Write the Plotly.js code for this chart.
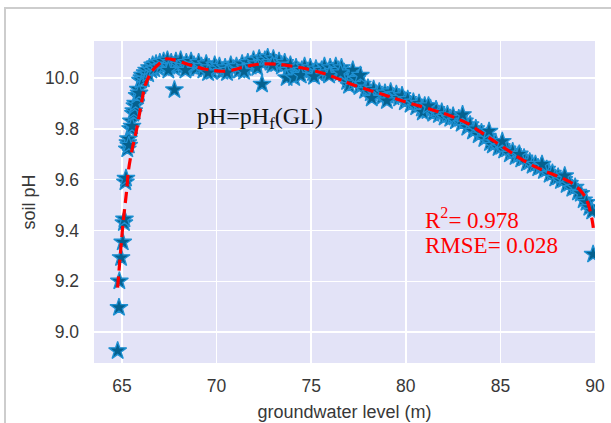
<!DOCTYPE html>
<html>
<head>
<meta charset="utf-8">
<script src="https://cdn.plot.ly/plotly-3.0.1.min.js"></script>
<style>
  html, body { margin: 0; padding: 0; background: #ffffff; }
  #wrap { position: relative; width: 611px; height: 423px; }
  #chart { width: 611px; height: 423px; }
  #frame { position: absolute; left: 4px; top: 7px; right: -4px; bottom: -4px;
           border-top: 2px solid #cdcdcd; border-left: 2px solid #cdcdcd; pointer-events: none; }
</style>
</head>
<body>
<div id="wrap">
  <div id="chart"></div>
  <div id="frame"></div>
</div>
<script>
const groundwaterLevel = [
  64.77, 64.84, 64.86, 64.95, 65.04, 65.10, 65.13, 65.18, 65.21, 65.28, 65.31, 65.34, 65.36,
  65.45, 65.50, 65.53, 65.60, 65.62, 65.68, 65.72, 65.80, 65.86, 65.90, 65.98, 66.05, 66.12,
  66.00, 66.08, 66.15, 66.22, 66.30, 66.38, 66.45, 66.55, 66.62, 66.70, 66.80, 66.90,
  67.00, 67.10, 67.20, 67.30, 67.40, 67.50, 67.60, 67.75, 67.85, 68.00, 68.10, 68.25, 68.40,
  68.50, 68.65, 68.80, 68.90, 69.05, 69.20, 69.30, 69.45, 69.60, 69.75, 69.90, 70.00, 70.15,
  70.30, 70.45, 70.60, 70.75, 70.90, 71.05, 71.20, 71.35, 71.50, 71.65, 71.80, 71.95, 72.10,
  72.25, 72.40, 72.55, 72.70, 72.85, 73.00, 73.15, 73.30, 73.45, 73.60, 73.75, 73.90, 74.05,
  74.20, 74.35, 74.50, 74.65, 74.80, 74.95, 75.10, 75.25, 75.40, 75.55, 75.70, 75.85, 76.00,
  76.15, 76.30, 76.45, 76.60, 76.75, 76.90, 77.00, 77.10, 77.25, 77.40, 77.55, 77.70, 77.85,
  78.00, 78.15, 78.30, 78.45, 78.60, 78.75, 78.90, 79.05, 79.20, 79.35, 79.50, 79.65, 79.80,
  79.95, 80.10, 80.25, 80.40, 80.55, 80.70, 80.85, 81.00, 81.15, 81.30, 81.45, 81.60, 81.75,
  81.90, 82.05, 82.20, 82.35, 82.50, 82.65, 82.80, 82.95, 83.10, 83.25, 83.40, 83.55, 83.70,
  83.85, 84.00, 84.15, 84.30, 84.45, 84.60, 84.75, 84.90, 85.05, 85.20, 85.35, 85.50, 85.65,
  85.80, 85.95, 86.10, 86.25, 86.40, 86.55, 86.70, 86.85, 87.00, 87.15, 87.30, 87.45, 87.60,
  87.75, 87.90, 88.05, 88.20, 88.35, 88.50, 88.65, 88.80, 88.95, 89.10, 89.25, 89.40, 89.55,
  89.70, 89.85,
  73.70, 74.10, 77.20, 77.60, 78.20, 79.00, 80.90, 84.40, 85.10,
  67.45, 68.35, 69.55, 70.55, 71.45, 72.15, 72.95, 74.45, 75.15, 75.95, 76.55, 81.20, 83.00, 86.00, 87.20, 88.40,
  67.77, 72.40, 89.90
];
const soilPH = [
  8.927, 9.097, 9.201, 9.293, 9.354, 9.430, 9.445, 9.590, 9.605, 9.720, 9.745, 9.760, 9.735,
  9.800, 9.830, 9.810, 9.860, 9.870, 9.890, 9.900, 9.930, 9.955, 9.940, 9.990, 10.000, 10.010,
  9.990, 10.010, 9.995, 10.020, 10.030, 10.015, 10.040, 10.030, 10.050, 10.035, 10.055, 10.040,
  10.060, 10.045, 10.065, 10.050, 10.070, 10.045, 10.060, 10.040, 10.065, 10.050, 10.070, 10.045, 10.060,
  10.040, 10.065, 10.050, 10.035, 10.060, 10.045, 10.030, 10.055, 10.040, 10.025, 10.050, 10.035, 10.045,
  10.025, 10.040, 10.030, 10.050, 10.035, 10.045, 10.030, 10.055, 10.040, 10.060, 10.045, 10.070, 10.055,
  10.075, 10.060, 10.070, 10.080, 10.060, 10.075, 10.055, 10.065, 10.045, 10.060, 10.030, 10.050, 10.020,
  10.040, 10.015, 10.030, 10.045, 10.025, 10.040, 10.020, 10.035, 10.015, 10.030, 10.045, 10.020, 10.040,
  10.025, 10.045, 10.030, 10.040, 10.015, 9.985, 9.970, 10.000, 9.980, 9.995, 9.965, 9.975, 9.950,
  9.960, 9.940, 9.955, 9.935, 9.945, 9.925, 9.940, 9.930, 9.945, 9.925, 9.935, 9.920, 9.930,
  9.905, 9.915, 9.895, 9.905, 9.885, 9.900, 9.880, 9.890, 9.870, 9.880, 9.860, 9.875, 9.855,
  9.865, 9.845, 9.855, 9.840, 9.850, 9.830, 9.840, 9.820, 9.830, 9.805, 9.815, 9.790, 9.800,
  9.775, 9.785, 9.760, 9.770, 9.745, 9.735, 9.745, 9.725, 9.730, 9.715, 9.720, 9.700, 9.710,
  9.690, 9.695, 9.680, 9.685, 9.665, 9.670, 9.655, 9.660, 9.645, 9.650, 9.635, 9.640, 9.620,
  9.625, 9.605, 9.610, 9.595, 9.600, 9.580, 9.585, 9.565, 9.570, 9.550, 9.545, 9.520, 9.510,
  9.490, 9.475,
  10.000, 10.000, 10.030, 10.010, 9.920, 9.910, 9.865, 9.790, 9.750,
  10.030, 10.030, 10.020, 10.020, 10.025, 10.040, 10.050, 10.010, 10.005, 10.010, 10.020, 9.890, 9.855, 9.700, 9.660, 9.615,
  9.953, 9.975, 9.306
];

// fitted curve pH = pH_f(GL) (red dashed)
const fitLevel = [
  64.77, 64.95, 65.07, 65.25, 65.33, 65.51, 65.78, 66.04, 66.22, 66.57, 67.10, 67.36, 67.80,
  68.30, 68.80, 69.30, 69.80, 70.30, 70.80, 71.30, 71.80, 72.30, 72.80, 73.30, 73.80, 74.30,
  74.80, 75.30, 75.80, 76.30, 76.80, 77.30, 77.80, 78.30, 78.80, 79.30, 79.80, 80.30, 80.80,
  81.30, 81.80, 82.30, 82.80, 83.30, 83.80, 84.30, 84.80, 85.30, 85.80, 86.30, 86.80, 87.30,
  87.80, 88.30, 88.80, 89.20, 89.50, 89.70, 89.85, 89.95
];
const fitPH = [
  9.175, 9.340, 9.440, 9.560, 9.630, 9.710, 9.800, 9.905, 9.970, 10.025, 10.064, 10.075, 10.070,
  10.058, 10.046, 10.036, 10.029, 10.026, 10.030, 10.040, 10.049, 10.054, 10.055, 10.053, 10.048, 10.042,
  10.035, 10.025, 10.014, 10.000, 9.985, 9.970, 9.958, 9.946, 9.935, 9.922, 9.910, 9.898, 9.888,
  9.877, 9.865, 9.852, 9.837, 9.820, 9.795, 9.770, 9.745, 9.720, 9.695, 9.672, 9.652, 9.635,
  9.620, 9.605, 9.585, 9.560, 9.530, 9.490, 9.440, 9.390
];

const xTicks = [65, 70, 75, 80, 85, 90];
const yTicks = [9.0, 9.2, 9.4, 9.6, 9.8, 10.0];
const xLabel = 'groundwater level (m)';
const yLabel = 'soil pH';

const traces = [
  {
    x: groundwaterLevel, y: soilPH, type: 'scatter', mode: 'markers',
    marker: { symbol: 'star', size: 13.5, color: '#05618f', line: { color: '#1e90d2', width: 1.3 } },
    hoverinfo: 'x+y', showlegend: false, cliponaxis: true
  },
  {
    x: fitLevel, y: fitPH, type: 'scatter', mode: 'lines',
    line: { color: '#ff0000', width: 3.2, dash: '11px,6px', shape: 'spline', smoothing: 0.8 },
    showlegend: false
  }
];

const tickFont = { family: 'Liberation Sans, Arial, sans-serif', size: 17.5, color: '#383838' };
const serif = 'Liberation Serif, Times New Roman, serif';

const layout = {
  width: 611, height: 423,
  margin: { l: 94, r: 16, t: 41, b: 60, pad: 0 },
  paper_bgcolor: '#ffffff',
  plot_bgcolor: '#e3e3f7',
  xaxis: {
    range: [63.52, 90.0], tickvals: xTicks, ticktext: xTicks.map(String),
    showgrid: true, gridcolor: '#ffffff', gridwidth: 1.5, zeroline: false, showline: false,
    ticks: '', tickfont: tickFont, ticklabelstandoff: 10,
    title: { text: xLabel, font: { family: 'Liberation Sans, Arial, sans-serif', size: 18, color: '#383838' }, standoff: 10 }
  },
  yaxis: {
    range: [8.879, 10.145], tickvals: yTicks, ticktext: yTicks.map(v => v.toFixed(1)),
    showgrid: true, gridcolor: '#ffffff', gridwidth: 1.5, zeroline: false, showline: false,
    ticks: '', tickfont: tickFont, ticklabelstandoff: 14,
    title: { text: yLabel, font: { family: 'Liberation Sans, Arial, sans-serif', size: 18, color: '#383838' }, standoff: 4 }
  },
  annotations: [
    { x: 68.86, y: 9.843, xref: 'x', yref: 'y', xanchor: 'left', yanchor: 'middle', showarrow: false,
      text: 'pH=pH<sub>f</sub>(GL)', font: { family: serif, size: 24, color: '#111111' } },
    { x: 80.93, y: 9.447, xref: 'x', yref: 'y', xanchor: 'left', yanchor: 'middle', showarrow: false,
      text: 'R<sup>2</sup>= 0.978', font: { family: serif, size: 23, color: '#ff0000' } },
    { x: 80.93, y: 9.341, xref: 'x', yref: 'y', xanchor: 'left', yanchor: 'middle', showarrow: false,
      text: 'RMSE= 0.028', font: { family: serif, size: 23, color: '#ff0000' } }
  ]
};

Plotly.newPlot('chart', traces, layout, { displayModeBar: false, staticPlot: true });
</script>
</body>
</html>
